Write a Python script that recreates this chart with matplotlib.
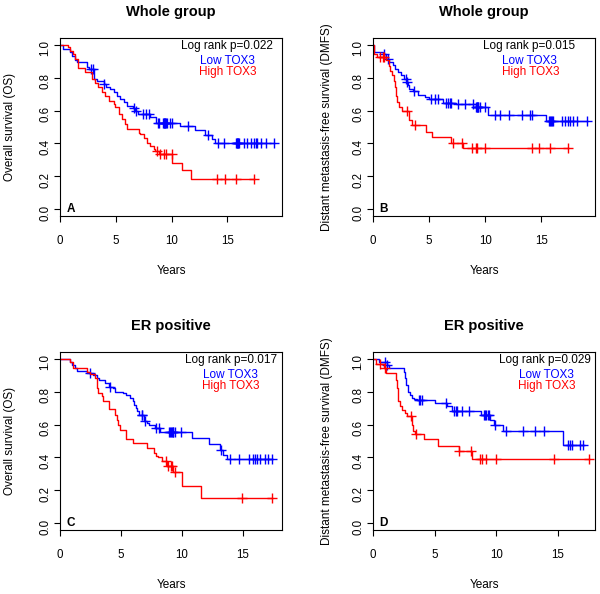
import numpy as np
import matplotlib
matplotlib.use("Agg")
import matplotlib.pyplot as plt

plt.rcParams['font.family'] = ['Liberation Sans', 'DejaVu Sans']

# panel A: whole group, OS
a_low_t = [0.3, 0.9, 1.05, 1.35, 1.5, 2.4, 2.6, 3.08, 3.3, 3.9, 4.1, 4.5, 4.8, 5.1, 5.4, 5.7, 6.0, 6.5, 6.75, 7.0, 8.05, 8.6, 10.8, 12.1, 13.0, 13.6, 13.9]
a_low_s = [0.975, 0.955, 0.93, 0.905, 0.895, 0.864, 0.853, 0.792, 0.78, 0.762, 0.745, 0.731, 0.71, 0.691, 0.67, 0.65, 0.63, 0.615, 0.595, 0.578, 0.56, 0.525, 0.507, 0.48, 0.452, 0.43, 0.405]
a_low_c = [2.8, 2.95, 3.95, 6.6, 6.8, 7.4, 7.7, 8.0, 8.8, 8.9, 9.2, 9.3, 9.35, 9.4, 9.45, 9.5, 9.6, 9.9, 10.05, 11.5, 13.3, 14.2, 14.7, 15.8, 15.85, 15.9, 15.95, 16.0, 16.05, 16.5, 16.8, 17.1, 17.4, 17.55, 17.7, 18.0, 18.5, 19.2]
a_high_t = [0.75, 0.9, 1.2, 1.35, 1.65, 2.25, 2.9, 3.15, 3.45, 3.75, 4.05, 4.35, 4.8, 4.95, 5.25, 5.55, 5.85, 6.0, 7.05, 7.2, 7.5, 7.8, 8.1, 8.4, 8.55, 8.9, 10.05, 10.9, 11.7]
a_high_s = [0.985, 0.96, 0.94, 0.91, 0.857, 0.831, 0.79, 0.765, 0.74, 0.715, 0.69, 0.66, 0.64, 0.619, 0.578, 0.548, 0.517, 0.487, 0.466, 0.456, 0.436, 0.405, 0.385, 0.365, 0.354, 0.334, 0.283, 0.238, 0.187]
a_high_c = [8.7, 9.0, 9.3, 9.5, 10.0, 14.1, 14.8, 15.8, 17.4]

# panel B: whole group, DMFS
b_low_t = [0.12, 0.87, 1.16, 1.46, 1.76, 2.0, 2.2, 2.5, 2.8, 3.0, 3.15, 3.25, 3.55, 3.99, 4.6, 5.0, 6.2, 7.4, 9.2, 10.3, 15.45]
b_low_s = [0.955, 0.941, 0.915, 0.894, 0.874, 0.853, 0.833, 0.813, 0.792, 0.772, 0.752, 0.731, 0.721, 0.697, 0.684, 0.670, 0.648, 0.637, 0.623, 0.575, 0.535]
b_low_c = [0.95, 1.3, 2.9, 3.04, 3.65, 5.2, 5.5, 5.8, 6.5, 6.7, 6.85, 7.0, 7.6, 8.2, 8.9, 9.2, 9.25, 9.3, 9.35, 9.4, 9.5, 10.0, 10.85, 11.35, 12.1, 13.3, 14.0, 14.15, 15.7, 15.8, 15.9, 16.0, 16.05, 16.9, 17.1, 17.4, 17.6, 17.8, 18.2, 19.1]
b_high_t = [0.05, 0.4, 1.2, 1.45, 1.55, 1.7, 1.85, 1.95, 2.05, 2.15, 2.3, 2.6, 3.25, 3.45, 4.7, 5.3, 7.0, 8.05]
b_high_s = [0.945, 0.925, 0.905, 0.87, 0.84, 0.817, 0.78, 0.74, 0.69, 0.65, 0.62, 0.595, 0.54, 0.515, 0.47, 0.44, 0.405, 0.373]
b_high_c = [0.65, 0.85, 1.0, 3.0, 3.75, 7.1, 7.95, 8.8, 9.2, 9.3, 10.0, 14.2, 14.8, 15.8, 17.4]

# panel C: ER positive, OS
c_low_t = [0.82, 1.0, 1.2, 1.4, 2.2, 2.7, 3.0, 3.2, 3.7, 4.0, 4.35, 4.5, 5.2, 5.45, 5.7, 6.0, 6.1, 6.2, 6.3, 6.45, 6.85, 7.1, 7.3, 7.8, 8.2, 10.86, 12.2, 13.1, 13.4, 13.7]
c_low_s = [0.98, 0.96, 0.94, 0.922, 0.91, 0.90, 0.88, 0.87, 0.85, 0.83, 0.82, 0.80, 0.79, 0.78, 0.76, 0.74, 0.72, 0.70, 0.68, 0.66, 0.62, 0.61, 0.60, 0.58, 0.555, 0.52, 0.484, 0.443, 0.418, 0.388]
c_low_c = [2.45, 4.1, 6.7, 6.75, 7.0, 7.9, 8.1, 8.9, 9.0, 9.1, 9.2, 9.25, 9.3, 9.4, 9.95, 13.2, 13.9, 14.7, 15.5, 15.8, 16.0, 16.15, 16.4, 16.8, 17.05, 17.4]
c_high_t = [0.82, 1.09, 2.18, 2.45, 2.86, 3.0, 3.07, 3.14, 3.41, 3.55, 4.0, 4.5, 4.64, 4.75, 4.9, 5.4, 5.95, 7.1, 7.7, 7.85, 8.0, 8.4, 8.75, 9.3, 10.0, 11.6]
c_high_s = [0.977, 0.943, 0.916, 0.907, 0.88, 0.851, 0.82, 0.794, 0.773, 0.745, 0.692, 0.657, 0.626, 0.596, 0.565, 0.514, 0.485, 0.457, 0.43, 0.41, 0.40, 0.38, 0.35, 0.31, 0.229, 0.153]
c_high_c = [8.7, 8.85, 9.1, 9.2, 9.4, 14.9, 17.4]

# panel D: ER positive, DMFS
d_low_t = [0.5, 1.1, 1.3, 2.5, 2.6, 2.7, 2.85, 2.96, 3.13, 3.3, 3.58, 5.0, 6.0, 6.4, 8.75, 9.47, 9.8, 10.56, 15.4]
d_low_s = [0.98, 0.96, 0.94, 0.92, 0.88, 0.84, 0.80, 0.78, 0.76, 0.755, 0.75, 0.73, 0.71, 0.68, 0.657, 0.626, 0.60, 0.561, 0.477]
d_low_c = [0.97, 1.16, 3.7, 3.85, 4.0, 5.9, 6.55, 6.7, 6.8, 7.2, 7.8, 9.0, 9.1, 9.2, 9.3, 9.4, 9.9, 10.8, 12.2, 13.15, 13.9, 15.8, 15.95, 16.1, 16.8, 17.0]
d_high_t = [0.27, 0.9, 1.08, 1.9, 1.95, 2.0, 2.05, 2.15, 2.37, 2.6, 2.78, 3.18, 3.26, 3.4, 4.1, 5.3, 6.95, 8.03]
d_high_s = [0.97, 0.94, 0.91, 0.87, 0.82, 0.78, 0.74, 0.71, 0.69, 0.67, 0.65, 0.60, 0.56, 0.545, 0.51, 0.47, 0.44, 0.388]
d_high_c = [0.6, 1.0, 3.05, 3.45, 7.0, 7.95, 8.7, 8.85, 9.15, 10.0, 14.7, 17.5]

titles = ["Whole group", "Whole group", "ER positive", "ER positive"]
ylabels = ["Overall survival (OS)", "Distant metastasis-free survival (DMFS)",
           "Overall survival (OS)", "Distant metastasis-free survival (DMFS)"]
pvals = ["Log rank p=0.022", "Log rank p=0.015", "Log rank p=0.017", "Log rank p=0.029"]
letters = ["A", "B", "C", "D"]
xmax = [19.9, 19.8, 18.2, 18.0]


def km(ax, t, s, c, col):
  end = max(t[-1], c[-1]) if c else t[-1]
  x = [0] + list(t) + [end]
  y = [1.0] + list(s) + [s[-1]]
  ax.step(x, y, where='post', color=col, lw=1.0)
  idx = np.searchsorted(np.array(t), np.array(c), side='right')
  cs = np.array([1.0] + list(s))[idx]
  ax.plot(c, cs, '+', color=col, ms=6.5, mew=1.0)


fig = plt.figure(figsize=(6.0, 5.94), dpi=100)
boxes = [(60, 38), (373, 38), (60, 352), (373, 352)]
leg = [(0.545, 0.63), (0.495, 0.583), (0.563, 0.645), (0.569, 0.656)]
data = [(a_low_t, a_low_s, a_low_c, a_high_t, a_high_s, a_high_c),
        (b_low_t, b_low_s, b_low_c, b_high_t, b_high_s, b_high_c),
        (c_low_t, c_low_s, c_low_c, c_high_t, c_high_s, c_high_c),
        (d_low_t, d_low_s, d_low_c, d_high_t, d_high_s, d_high_c)]

for i in range(4):
  px, py = boxes[i]
  ax = fig.add_axes([px / 600, 1 - (py + 178) / 594, 222 / 600, 178 / 594])
  lt, ls, lc, ht, hs, hc = data[i]
  km(ax, lt, ls, lc, '#0000FF')
  km(ax, ht, hs, hc, '#FF0000')
  ax.set_xlim(0, xmax[i])
  ax.set_ylim(-0.04, 1.04)
  ax.set_xticks([0, 5, 10, 15])
  ax.set_yticks([0.0, 0.2, 0.4, 0.6, 0.8, 1.0])
  ax.set_yticklabels(["0.0", "0.2", "0.4", "0.6", "0.8", "1.0"])
  ax.tick_params(axis='both', direction='out', length=4.5, width=0.8, labelsize=8.3)
  ax.tick_params(axis='x', pad=9)
  ax.tick_params(axis='y', pad=1.5, labelrotation=90)
  for sp in ax.spines.values():
    sp.set_linewidth(0.8)
  ax.text(0.5, 1 + 26 / 178, titles[i], transform=ax.transAxes, ha='center', va='center',
          fontsize=10.5, fontweight='bold')
  ax.text(0.5, -55 / 178, "Years", transform=ax.transAxes, ha='center', va='center', fontsize=8.5)
  ylx = -50 / 222 if i % 2 == 0 else -46 / 222
  ax.text(ylx, 0.5, ylabels[i], transform=ax.transAxes, ha='center', va='center',
          rotation=90, fontsize=8.5)
  ax.text(leg[i][0], 0.953, pvals[i], transform=ax.transAxes, ha='left', va='center', fontsize=8.5)
  ax.text(leg[i][1], 0.873, "Low TOX3", transform=ax.transAxes, ha='left', va='center',
          fontsize=8.5, color='#0000FF')
  ax.text(leg[i][1] - 0.004, 0.808, "High TOX3", transform=ax.transAxes, ha='left', va='center',
          fontsize=8.5, color='#FF0000')
  ax.text(0.048, 0.04, letters[i], transform=ax.transAxes, ha='center', va='center',
          fontsize=8.5, fontweight='bold')

fig.savefig("out.png", dpi=100)
